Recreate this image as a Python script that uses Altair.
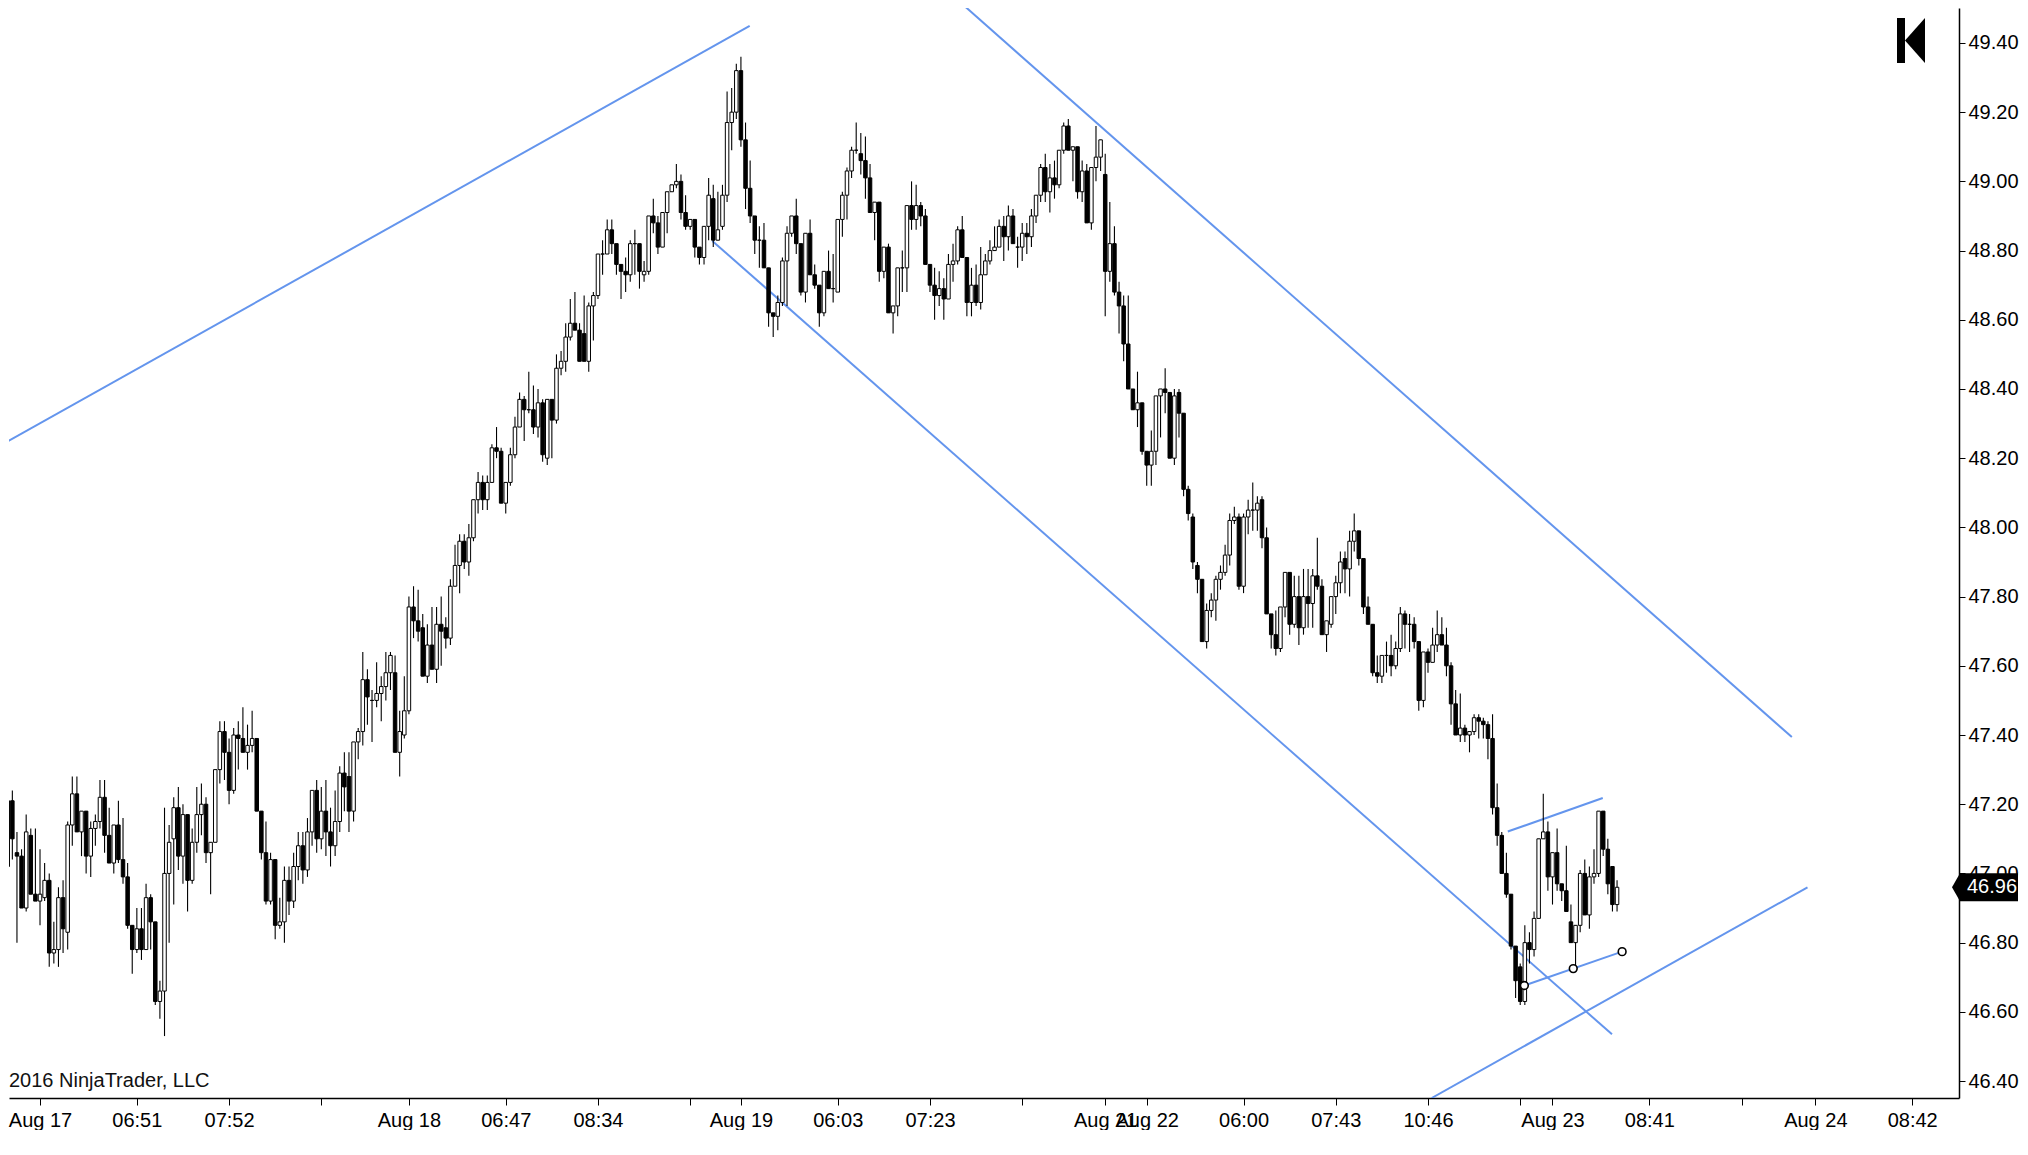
import altair as alt
import pandas as pd

# ---- candle data, one bar per index ----
opens = [
    47.02, 47.21, 47.06, 47.05, 46.90, 47.11, 46.94, 46.92, 46.93, 46.98,
    46.77, 46.78, 46.93, 46.83, 47.14, 47.23, 47.12, 47.18, 47.05, 47.13,
    47.15, 47.22, 47.11, 47.03, 47.14, 47.04, 46.99, 46.85, 46.78, 46.84,
    46.78, 46.93, 46.86, 46.63, 46.66, 47.00, 47.10, 47.19, 47.05, 47.17,
    46.98, 47.09, 47.17, 47.20, 47.06, 47.09, 47.30, 47.41, 47.35, 47.24,
    47.40, 47.39, 47.35, 47.37, 47.39, 47.18, 47.06, 46.92, 47.04, 46.85,
    46.86, 46.98, 46.92, 47.02, 47.08, 47.01, 47.12, 47.24, 47.10, 47.18,
    47.12, 47.08, 47.15, 47.29, 47.28, 47.18, 47.38, 47.41, 47.56, 47.50,
    47.50, 47.52, 47.54, 47.58, 47.58, 47.35, 47.40, 47.47, 47.77, 47.73,
    47.71, 47.57, 47.66, 47.59, 47.72, 47.71, 47.68, 47.83, 47.89, 47.96,
    47.90, 47.97, 48.08, 48.13, 48.08, 48.13, 48.23, 48.22, 48.07, 48.13,
    48.21, 48.29, 48.37, 48.34, 48.34, 48.29, 48.36, 48.20, 48.37, 48.31,
    48.46, 48.48, 48.55, 48.59, 48.57, 48.56, 48.48, 48.64, 48.67, 48.79,
    48.79, 48.86, 48.82, 48.76, 48.74, 48.73, 48.82, 48.82, 48.73, 48.74,
    48.90, 48.88, 48.81, 48.91, 48.97, 48.99, 49.00, 48.91, 48.87, 48.89,
    48.81, 48.78, 48.87, 48.95, 48.83, 48.87, 48.96, 49.17, 49.20, 49.32,
    49.12, 48.98, 48.90, 48.83, 48.83, 48.75, 48.62, 48.61, 48.65, 48.77,
    48.85, 48.90, 48.82, 48.68, 48.85, 48.73, 48.70, 48.62, 48.74, 48.69,
    48.68, 48.89, 48.96, 49.03, 49.09, 49.08, 49.06, 49.01, 48.91, 48.94,
    48.74, 48.81, 48.62, 48.64, 48.75, 48.75, 48.93, 48.89, 48.93, 48.90,
    48.76, 48.70, 48.67, 48.69, 48.66, 48.76, 48.77, 48.86, 48.78, 48.65,
    48.70, 48.65, 48.73, 48.77, 48.80, 48.81, 48.87, 48.84, 48.90, 48.81,
    48.81, 48.85, 48.84, 48.90, 48.96, 49.04, 48.97, 49.01, 48.99, 49.09,
    49.16, 49.09, 49.10, 48.97, 49.03, 48.88, 49.04, 49.07, 49.02, 48.74,
    48.82, 48.68, 48.64, 48.53, 48.40, 48.34, 48.36, 48.22, 48.18, 48.22,
    48.38, 48.40, 48.39, 48.20, 48.39, 48.33, 48.11, 48.03, 47.89, 47.85,
    47.67, 47.76, 47.79, 47.85, 47.87, 47.92, 48.02, 48.03, 47.83, 48.03,
    48.05, 48.05, 48.08, 47.97, 47.75, 47.69, 47.65, 47.77, 47.87, 47.72,
    47.80, 47.71, 47.80, 47.78, 47.86, 47.83, 47.69, 47.72, 47.80, 47.84,
    47.91, 47.88, 47.96, 47.99, 47.91, 47.77, 47.72, 47.58, 47.57, 47.63,
    47.63, 47.60, 47.65, 47.75, 47.72, 47.72, 47.67, 47.50, 47.64, 47.61,
    47.66, 47.69, 47.66, 47.60, 47.49, 47.40, 47.42, 47.40, 47.41, 47.45,
    47.44, 47.43, 47.39, 47.19, 47.11, 47.00, 46.94, 46.79, 46.73, 46.63,
    46.80, 46.78, 46.87, 47.10, 47.12, 46.99, 47.06, 46.97, 46.95, 46.86,
    46.80, 46.85, 47.00, 46.88, 46.99, 47.00, 47.18, 47.07, 47.02, 46.91,
]
highs = [
    47.29, 47.24, 47.12, 47.07, 47.17, 47.13, 47.13, 47.07, 47.03, 47.00,
    46.86, 46.96, 46.98, 47.15, 47.28, 47.28, 47.18, 47.18, 47.15, 47.17,
    47.27, 47.27, 47.19, 47.14, 47.21, 47.16, 47.03, 46.85, 46.90, 46.90,
    46.97, 46.94, 46.86, 46.69, 47.19, 47.14, 47.22, 47.25, 47.20, 47.17,
    47.13, 47.25, 47.26, 47.22, 47.09, 47.30, 47.44, 47.44, 47.39, 47.42,
    47.44, 47.48, 47.43, 47.47, 47.39, 47.18, 47.15, 47.06, 47.04, 46.93,
    47.02, 47.02, 47.06, 47.12, 47.12, 47.16, 47.24, 47.27, 47.25, 47.27,
    47.19, 47.24, 47.31, 47.35, 47.35, 47.38, 47.42, 47.64, 47.59, 47.53,
    47.61, 47.57, 47.64, 47.64, 47.63, 47.47, 47.57, 47.80, 47.83, 47.82,
    47.75, 47.72, 47.77, 47.77, 47.80, 47.74, 47.85, 47.95, 47.98, 47.98,
    48.01, 48.08, 48.16, 48.15, 48.15, 48.24, 48.29, 48.23, 48.13, 48.23,
    48.32, 48.39, 48.38, 48.45, 48.41, 48.40, 48.37, 48.37, 48.37, 48.50,
    48.51, 48.59, 48.66, 48.68, 48.59, 48.67, 48.65, 48.68, 48.79, 48.83,
    48.89, 48.89, 48.82, 48.76, 48.78, 48.83, 48.86, 48.82, 48.77, 48.90,
    48.95, 48.90, 48.91, 48.97, 48.99, 49.05, 49.02, 48.96, 48.89, 48.89,
    48.81, 48.87, 49.01, 48.99, 48.97, 48.99, 49.26, 49.27, 49.34, 49.36,
    49.17, 49.06, 48.90, 48.87, 48.88, 48.75, 48.62, 48.67, 48.78, 48.87,
    48.90, 48.95, 48.82, 48.85, 48.89, 48.76, 48.70, 48.74, 48.80, 48.79,
    48.89, 48.97, 49.04, 49.10, 49.17, 49.14, 49.13, 49.05, 48.94, 48.94,
    48.81, 48.82, 48.64, 48.75, 48.80, 48.93, 49.00, 48.99, 48.94, 48.92,
    48.76, 48.75, 48.74, 48.72, 48.79, 48.82, 48.87, 48.90, 48.78, 48.75,
    48.76, 48.81, 48.79, 48.83, 48.87, 48.89, 48.90, 48.93, 48.92, 48.84,
    48.88, 48.88, 48.92, 48.96, 49.05, 49.08, 49.05, 49.06, 49.09, 49.17,
    49.18, 49.10, 49.10, 49.06, 49.05, 49.04, 49.16, 49.12, 49.08, 48.94,
    48.87, 48.71, 48.67, 48.67, 48.40, 48.45, 48.36, 48.22, 48.28, 48.38,
    48.40, 48.46, 48.39, 48.40, 48.40, 48.33, 48.12, 48.04, 47.90, 47.85,
    47.78, 47.81, 47.86, 47.89, 47.95, 48.04, 48.06, 48.04, 48.04, 48.08,
    48.13, 48.09, 48.09, 48.00, 47.75, 47.76, 47.77, 47.87, 47.87, 47.86,
    47.86, 47.88, 47.88, 47.88, 47.97, 47.85, 47.73, 47.80, 47.86, 47.93,
    47.93, 47.99, 48.04, 47.99, 47.91, 47.80, 47.72, 47.63, 47.63, 47.67,
    47.69, 47.67, 47.77, 47.76, 47.75, 47.74, 47.67, 47.64, 47.65, 47.71,
    47.76, 47.74, 47.71, 47.61, 47.53, 47.52, 47.43, 47.41, 47.46, 47.46,
    47.45, 47.44, 47.46, 47.26, 47.12, 47.06, 46.94, 46.79, 46.74, 46.85,
    46.83, 46.89, 47.10, 47.23, 47.15, 47.06, 47.13, 46.97, 47.08, 46.91,
    46.85, 47.01, 47.04, 47.02, 47.07, 47.18, 47.18, 47.10, 47.02, 46.98,
]
lows = [
    47.00, 47.04, 46.80, 46.90, 46.89, 46.94, 46.92, 46.85, 46.92, 46.73,
    46.74, 46.73, 46.77, 46.78, 47.08, 47.12, 47.05, 47.00, 46.99, 47.08,
    47.13, 47.06, 47.03, 47.00, 47.03, 46.97, 46.84, 46.71, 46.77, 46.75,
    46.78, 46.78, 46.62, 46.58, 46.53, 46.80, 46.91, 47.01, 46.97, 46.89,
    46.97, 47.06, 47.11, 47.03, 46.94, 47.09, 47.26, 47.27, 47.20, 47.23,
    47.30, 47.35, 47.30, 47.35, 47.18, 47.04, 46.91, 46.91, 46.81, 46.84,
    46.80, 46.88, 46.90, 46.98, 46.97, 46.99, 47.08, 47.06, 47.07, 47.05,
    47.02, 47.05, 47.12, 47.18, 47.12, 47.15, 47.33, 47.37, 47.43, 47.38,
    47.48, 47.44, 47.50, 47.53, 47.35, 47.28, 47.39, 47.46, 47.68, 47.67,
    47.57, 47.55, 47.59, 47.55, 47.60, 47.65, 47.66, 47.83, 47.81, 47.88,
    47.86, 47.96, 48.04, 48.05, 48.05, 48.13, 48.20, 48.07, 48.04, 48.12,
    48.20, 48.29, 48.25, 48.33, 48.27, 48.26, 48.19, 48.18, 48.20, 48.30,
    48.44, 48.45, 48.54, 48.57, 48.48, 48.48, 48.45, 48.54, 48.66, 48.73,
    48.79, 48.79, 48.73, 48.66, 48.68, 48.71, 48.73, 48.69, 48.71, 48.73,
    48.85, 48.79, 48.81, 48.85, 48.97, 48.98, 48.89, 48.86, 48.86, 48.78,
    48.76, 48.76, 48.83, 48.81, 48.83, 48.86, 48.94, 49.09, 49.18, 49.10,
    48.92, 48.88, 48.79, 48.75, 48.75, 48.58, 48.55, 48.57, 48.64, 48.64,
    48.84, 48.79, 48.67, 48.65, 48.73, 48.69, 48.58, 48.61, 48.69, 48.65,
    48.68, 48.84, 48.89, 49.01, 49.08, 49.02, 48.95, 48.91, 48.83, 48.71,
    48.72, 48.62, 48.56, 48.61, 48.68, 48.68, 48.86, 48.86, 48.87, 48.76,
    48.68, 48.60, 48.64, 48.60, 48.66, 48.71, 48.76, 48.78, 48.61, 48.61,
    48.64, 48.63, 48.73, 48.76, 48.80, 48.81, 48.77, 48.80, 48.82, 48.75,
    48.77, 48.79, 48.81, 48.88, 48.94, 48.94, 48.91, 48.95, 48.98, 49.08,
    49.09, 49.00, 48.95, 48.94, 48.88, 48.86, 49.00, 49.03, 48.61, 48.71,
    48.67, 48.56, 48.48, 48.40, 48.34, 48.29, 48.21, 48.12, 48.12, 48.18,
    48.26, 48.33, 48.20, 48.18, 48.26, 48.09, 48.02, 47.88, 47.81, 47.67,
    47.65, 47.74, 47.73, 47.82, 47.86, 47.89, 48.01, 47.82, 47.81, 47.98,
    47.99, 47.99, 47.94, 47.75, 47.65, 47.63, 47.64, 47.74, 47.69, 47.71,
    47.66, 47.69, 47.71, 47.71, 47.82, 47.69, 47.64, 47.71, 47.75, 47.81,
    47.81, 47.80, 47.93, 47.89, 47.75, 47.72, 47.57, 47.55, 47.55, 47.58,
    47.57, 47.59, 47.64, 47.65, 47.64, 47.65, 47.47, 47.48, 47.58, 47.61,
    47.64, 47.66, 47.57, 47.43, 47.40, 47.38, 47.38, 47.35, 47.40, 47.39,
    47.39, 47.33, 47.17, 47.08, 47.00, 46.93, 46.78, 46.64, 46.62, 46.62,
    46.74, 46.76, 46.87, 47.10, 46.95, 46.91, 46.95, 46.92, 46.89, 46.80,
    46.73, 46.83, 46.88, 46.84, 46.97, 46.99, 47.05, 46.94, 46.89, 46.89,
]
closes = [
    47.21, 47.10, 47.05, 46.90, 47.12, 46.94, 46.92, 46.94, 46.98, 46.77,
    46.78, 46.93, 46.84, 47.14, 47.23, 47.12, 47.18, 47.05, 47.13, 47.15,
    47.22, 47.11, 47.03, 47.14, 47.04, 46.99, 46.85, 46.78, 46.84, 46.78,
    46.93, 46.86, 46.63, 46.66, 47.00, 47.09, 47.19, 47.05, 47.17, 46.98,
    47.09, 47.17, 47.20, 47.06, 47.09, 47.30, 47.41, 47.35, 47.24, 47.40,
    47.39, 47.35, 47.37, 47.39, 47.18, 47.06, 46.92, 47.04, 46.85, 46.86,
    46.98, 46.92, 47.02, 47.08, 47.01, 47.12, 47.24, 47.10, 47.18, 47.12,
    47.08, 47.15, 47.29, 47.25, 47.18, 47.38, 47.41, 47.56, 47.51, 47.50,
    47.52, 47.54, 47.58, 47.63, 47.35, 47.41, 47.47, 47.77, 47.73, 47.70,
    47.57, 47.66, 47.59, 47.72, 47.70, 47.68, 47.83, 47.89, 47.96, 47.90,
    47.97, 48.08, 48.13, 48.08, 48.13, 48.23, 48.22, 48.07, 48.13, 48.21,
    48.29, 48.37, 48.34, 48.34, 48.29, 48.36, 48.21, 48.37, 48.31, 48.46,
    48.48, 48.55, 48.59, 48.57, 48.48, 48.48, 48.64, 48.67, 48.79, 48.79,
    48.86, 48.82, 48.76, 48.74, 48.73, 48.82, 48.82, 48.74, 48.74, 48.90,
    48.88, 48.81, 48.91, 48.97, 48.99, 49.00, 48.91, 48.87, 48.89, 48.81,
    48.78, 48.87, 48.96, 48.83, 48.86, 48.96, 49.17, 49.20, 49.32, 49.12,
    48.98, 48.90, 48.83, 48.83, 48.75, 48.62, 48.61, 48.65, 48.77, 48.85,
    48.90, 48.82, 48.68, 48.85, 48.73, 48.70, 48.62, 48.74, 48.69, 48.69,
    48.89, 48.96, 49.03, 49.09, 49.09, 49.06, 49.01, 48.91, 48.94, 48.74,
    48.81, 48.62, 48.64, 48.75, 48.75, 48.93, 48.89, 48.93, 48.90, 48.76,
    48.70, 48.67, 48.69, 48.66, 48.76, 48.77, 48.86, 48.78, 48.65, 48.70,
    48.65, 48.73, 48.77, 48.80, 48.81, 48.87, 48.84, 48.90, 48.82, 48.81,
    48.85, 48.84, 48.90, 48.96, 49.04, 48.97, 49.01, 48.99, 49.09, 49.16,
    49.09, 49.10, 48.97, 49.03, 48.88, 49.04, 49.07, 49.12, 48.74, 48.82,
    48.68, 48.64, 48.53, 48.40, 48.34, 48.36, 48.22, 48.18, 48.22, 48.38,
    48.40, 48.39, 48.20, 48.38, 48.33, 48.11, 48.04, 47.90, 47.85, 47.67,
    47.76, 47.79, 47.85, 47.87, 47.92, 48.02, 48.03, 47.83, 48.03, 48.05,
    48.05, 48.07, 47.97, 47.75, 47.69, 47.65, 47.77, 47.87, 47.72, 47.80,
    47.71, 47.80, 47.78, 47.86, 47.83, 47.69, 47.73, 47.80, 47.84, 47.90,
    47.88, 47.96, 47.99, 47.91, 47.77, 47.72, 47.58, 47.57, 47.63, 47.63,
    47.60, 47.65, 47.75, 47.72, 47.72, 47.67, 47.50, 47.64, 47.61, 47.66,
    47.69, 47.66, 47.60, 47.49, 47.40, 47.42, 47.40, 47.41, 47.45, 47.44,
    47.43, 47.39, 47.19, 47.11, 47.00, 46.94, 46.79, 46.69, 46.63, 46.80,
    46.78, 46.87, 47.10, 47.12, 46.99, 47.06, 46.97, 46.95, 46.89, 46.80,
    46.85, 47.00, 46.88, 46.99, 47.00, 47.18, 47.07, 46.97, 46.91, 46.96,
]

# ---- x axis tick positions (bar index) and their labels ----
tick_values = [7, 28, 48, 68, 87, 108, 128, 148, 159, 180, 200, 220,
               238, 247, 268, 288, 308, 328, 335, 356, 376, 392, 413]
tick_labels = ["Aug 17", "06:51", "07:52", "", "Aug 18", "06:47", "08:34", "",
               "Aug 19", "06:03", "07:23", "", "Aug 21", "Aug 22", "06:00",
               "07:43", "10:46", "", "Aug 23", "08:41", "", "Aug 24", "08:42"]
price_ticks = [46.40, 46.60, 46.80, 47.00, 47.20, 47.40, 47.60, 47.80,
               48.00, 48.20, 48.40, 48.60, 48.80, 49.00, 49.20, 49.40]

# ---- drawing objects (bar index, price) ----
line_ids = ["a", "a", "b", "b", "c", "c", "d", "d", "e", "e", "f", "f"]
line_x = [-0.37, 160.9, 206.1, 386.9, 152.8, 347.9, 308.8, 390.3, 325.3, 345.9, 328.9, 350.1]
line_y = [48.246, 49.449, 49.523, 47.394, 48.828, 46.535, 46.351, 46.960, 47.121, 47.218, 46.676, 46.774]
anchor_x = [328.9, 339.5, 350.1]
anchor_y = [46.676, 46.725, 46.774]
last_price = [46.96]

n = min(len(opens), len(highs), len(lows), len(closes))
df = pd.DataFrame({
    "i": list(range(n)),
    "open": opens[:n],
    "close": closes[:n],
    "high": [max(h, o, c) for h, o, c in zip(highs[:n], opens[:n], closes[:n])],
    "low": [min(l, o, c) for l, o, c in zip(lows[:n], opens[:n], closes[:n])],
})
df["dir"] = ["up" if c >= o else "down" for o, c in zip(df["open"], df["close"])]

lines_df = pd.DataFrame({"id": line_ids, "x": line_x, "y": line_y})
anchors_df = pd.DataFrame({"x": anchor_x, "y": anchor_y})
price_df = pd.DataFrame({"p": last_price, "t": ["%.2f" % v for v in last_price]})
note_df = pd.DataFrame({"t": ["2016 NinjaTrader, LLC"]})
logo_df = pd.DataFrame({"k": [1]})

FONT = "Liberation Sans"
W, H = 1950, 1090
x_scale = alt.Scale(domain=[1.359, 422.07], nice=False, zero=False)
y_scale = alt.Scale(domain=[46.351, 49.501], nice=False, zero=False)

label_expr = "[%s][indexof([%s], datum.value)]" % (
    ",".join("'%s'" % s for s in tick_labels),
    ",".join(str(v) for v in tick_values),
)

x_axis = alt.Axis(values=tick_values, labelExpr=label_expr, title=None, grid=False,
                  tickSize=7, tickColor="black", domainColor="black", domainWidth=1.5,
                  labelColor="black", labelFont=FONT, labelFontSize=20,
                  labelOverlap=False, labelFlush=False, labelPadding=5)
y_axis = alt.Axis(orient="right", values=price_ticks, format=".2f", title=None, grid=False,
                  tickSize=6, tickColor="black", domainColor="black", domainWidth=1.5,
                  labelColor="black", labelFont=FONT, labelFontSize=20,
                  labelOverlap=False, labelFlush=False, labelPadding=3)

BLUE = "#6495ED"


def X(field):
    return alt.X(field, scale=x_scale, axis=x_axis)


def Y(field):
    return alt.Y(field, scale=y_scale, axis=y_axis)


trend = alt.Chart(lines_df).mark_line(color=BLUE, strokeWidth=2, clip=True).encode(
    x=X("x:Q"), y=Y("y:Q"), detail="id:N",
)

wicks = alt.Chart(df).mark_rule(color="black", strokeWidth=1.1, clip=True).encode(
    x=X("i:Q"), y=Y("low:Q"), y2="high:Q",
)

bodies = alt.Chart(df).mark_bar(size=3.5, stroke="black", strokeWidth=1, clip=True).encode(
    x=X("i:Q"), y=Y("open:Q"), y2="close:Q",
    fill=alt.Fill("dir:N", scale=alt.Scale(domain=["up", "down"], range=["#ffffff", "#000000"]),
                  legend=None),
)

anchors = alt.Chart(anchors_df).mark_point(filled=True, fill="white", stroke="black",
                                           strokeWidth=1.6, size=60, opacity=1).encode(
    x=X("x:Q"), y=Y("y:Q"),
)

marker_path = "M -1 0 L -0.758 -0.424 L 1 -0.424 L 1 0.424 L -0.758 0.424 Z"
marker = alt.Chart(price_df).mark_point(shape=marker_path, size=4356, filled=True,
                                        color="black", opacity=1, clip=False).encode(
    x=alt.value(1976), y=Y("p:Q"),
)
marker_text = alt.Chart(price_df).mark_text(align="left", baseline="middle", color="white",
                                            font=FONT, fontSize=20, clip=False).encode(
    x=alt.value(1958), y=Y("p:Q"), text="t:N",
)

note = alt.Chart(note_df).mark_text(align="left", baseline="alphabetic", color="#111111",
                                    font=FONT, fontSize=20).encode(
    x=alt.value(0), y=alt.value(1079), text="t:N",
)

logo_bar = alt.Chart(logo_df).mark_rect(color="black").encode(
    x=alt.value(1888), x2=alt.value(1896), y=alt.value(10), y2=alt.value(55),
)
logo_tri = alt.Chart(logo_df).mark_point(shape="M -0.444 0 L 0.444 -1 L 0.444 1 Z", size=2025,
                                         filled=True, color="black", opacity=1).encode(
    x=alt.value(1906), y=alt.value(32.5),
)

chart = alt.layer(trend, wicks, bodies, anchors, note, logo_bar, logo_tri, marker, marker_text).properties(
    width=W, height=H, padding=0, background="white",
).configure_view(stroke=None)

chart.save("out.html", embed_options={"renderer": "svg", "actions": False})
